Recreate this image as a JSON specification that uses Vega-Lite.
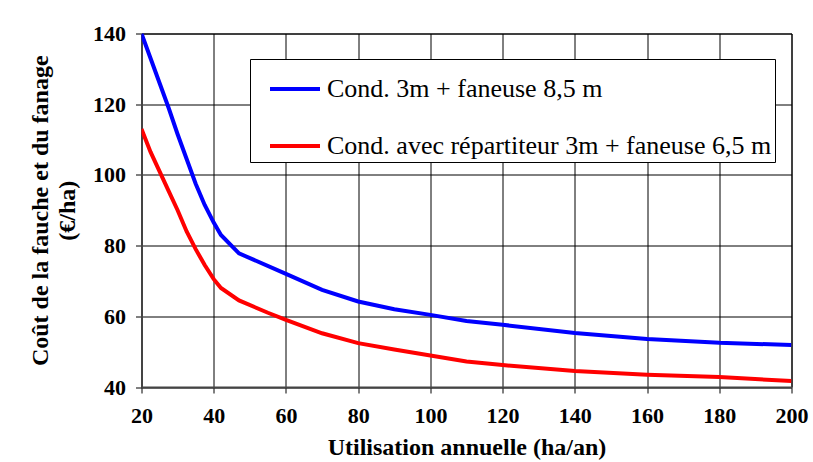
{
  "$schema": "https://vega.github.io/schema/vega-lite/v6.json",
  "width": 650,
  "height": 353.5,
  "autosize": {"type": "none"},
  "padding": {"left": 141.5, "top": 33.5, "right": 21, "bottom": 75},
  "background": "white",
  "config": {
    "view": {"stroke": "black", "strokeWidth": 1},
    "font": "Liberation Serif",
    "legend": {"labelFont": "Liberation Serif"}
  },
  "data": {
    "values": [
      {"x": 20, "cout": 140, "serie": "Cond. 3m + faneuse 8,5 m"},
      {"x": 22.5, "cout": 133, "serie": "Cond. 3m + faneuse 8,5 m"},
      {"x": 25, "cout": 126, "serie": "Cond. 3m + faneuse 8,5 m"},
      {"x": 27.5, "cout": 119, "serie": "Cond. 3m + faneuse 8,5 m"},
      {"x": 30, "cout": 111.5, "serie": "Cond. 3m + faneuse 8,5 m"},
      {"x": 32.5, "cout": 104.5, "serie": "Cond. 3m + faneuse 8,5 m"},
      {"x": 35, "cout": 97.5, "serie": "Cond. 3m + faneuse 8,5 m"},
      {"x": 37.5, "cout": 91.5, "serie": "Cond. 3m + faneuse 8,5 m"},
      {"x": 40, "cout": 86.5, "serie": "Cond. 3m + faneuse 8,5 m"},
      {"x": 42, "cout": 83, "serie": "Cond. 3m + faneuse 8,5 m"},
      {"x": 47, "cout": 77.8, "serie": "Cond. 3m + faneuse 8,5 m"},
      {"x": 60, "cout": 72, "serie": "Cond. 3m + faneuse 8,5 m"},
      {"x": 70, "cout": 67.5, "serie": "Cond. 3m + faneuse 8,5 m"},
      {"x": 80, "cout": 64.2, "serie": "Cond. 3m + faneuse 8,5 m"},
      {"x": 90, "cout": 62, "serie": "Cond. 3m + faneuse 8,5 m"},
      {"x": 100, "cout": 60.4, "serie": "Cond. 3m + faneuse 8,5 m"},
      {"x": 110, "cout": 58.7, "serie": "Cond. 3m + faneuse 8,5 m"},
      {"x": 120, "cout": 57.6, "serie": "Cond. 3m + faneuse 8,5 m"},
      {"x": 140, "cout": 55.3, "serie": "Cond. 3m + faneuse 8,5 m"},
      {"x": 160, "cout": 53.6, "serie": "Cond. 3m + faneuse 8,5 m"},
      {"x": 180, "cout": 52.5, "serie": "Cond. 3m + faneuse 8,5 m"},
      {"x": 200, "cout": 51.9, "serie": "Cond. 3m + faneuse 8,5 m"},
      {"x": 20, "cout": 113, "serie": "Cond. avec répartiteur 3m + faneuse 6,5 m"},
      {"x": 22.5, "cout": 106.5, "serie": "Cond. avec répartiteur 3m + faneuse 6,5 m"},
      {"x": 25, "cout": 101, "serie": "Cond. avec répartiteur 3m + faneuse 6,5 m"},
      {"x": 27.5, "cout": 95.5, "serie": "Cond. avec répartiteur 3m + faneuse 6,5 m"},
      {"x": 30, "cout": 90, "serie": "Cond. avec répartiteur 3m + faneuse 6,5 m"},
      {"x": 32.5, "cout": 84, "serie": "Cond. avec répartiteur 3m + faneuse 6,5 m"},
      {"x": 35, "cout": 79, "serie": "Cond. avec répartiteur 3m + faneuse 6,5 m"},
      {"x": 37.5, "cout": 74.5, "serie": "Cond. avec répartiteur 3m + faneuse 6,5 m"},
      {"x": 40, "cout": 70.5, "serie": "Cond. avec répartiteur 3m + faneuse 6,5 m"},
      {"x": 42, "cout": 68, "serie": "Cond. avec répartiteur 3m + faneuse 6,5 m"},
      {"x": 47, "cout": 64.5, "serie": "Cond. avec répartiteur 3m + faneuse 6,5 m"},
      {"x": 55, "cout": 61, "serie": "Cond. avec répartiteur 3m + faneuse 6,5 m"},
      {"x": 60, "cout": 59, "serie": "Cond. avec répartiteur 3m + faneuse 6,5 m"},
      {"x": 70, "cout": 55.2, "serie": "Cond. avec répartiteur 3m + faneuse 6,5 m"},
      {"x": 80, "cout": 52.4, "serie": "Cond. avec répartiteur 3m + faneuse 6,5 m"},
      {"x": 90, "cout": 50.6, "serie": "Cond. avec répartiteur 3m + faneuse 6,5 m"},
      {"x": 100, "cout": 48.9, "serie": "Cond. avec répartiteur 3m + faneuse 6,5 m"},
      {"x": 110, "cout": 47.2, "serie": "Cond. avec répartiteur 3m + faneuse 6,5 m"},
      {"x": 120, "cout": 46.2, "serie": "Cond. avec répartiteur 3m + faneuse 6,5 m"},
      {"x": 140, "cout": 44.5, "serie": "Cond. avec répartiteur 3m + faneuse 6,5 m"},
      {"x": 160, "cout": 43.5, "serie": "Cond. avec répartiteur 3m + faneuse 6,5 m"},
      {"x": 180, "cout": 42.8, "serie": "Cond. avec répartiteur 3m + faneuse 6,5 m"},
      {"x": 200, "cout": 41.7, "serie": "Cond. avec répartiteur 3m + faneuse 6,5 m"}
    ]
  },
  "mark": {"type": "line", "strokeWidth": 4, "clip": true},
  "encoding": {
    "x": {
      "field": "x",
      "type": "quantitative",
      "scale": {"domain": [20, 200], "nice": false, "zero": false},
      "axis": {
        "title": "Utilisation annuelle (ha/an)",
        "values": [20, 40, 60, 80, 100, 120, 140, 160, 180, 200],
        "grid": true,
        "gridColor": "black",
        "gridOpacity": 1,
        "gridWidth": 1,
        "domainColor": "#444",
        "domainWidth": 2,
        "tickColor": "black",
        "tickSize": 6,
        "labelFont": "Liberation Serif",
        "labelFontWeight": "bold",
        "labelFontSize": 22,
        "labelColor": "black",
        "labelPadding": 12,
        "labelFlush": false,
        "titleFont": "Liberation Serif",
        "titleFontWeight": "bold",
        "titleFontSize": 24,
        "titleColor": "black",
        "titlePadding": 9
      }
    },
    "y": {
      "field": "cout",
      "type": "quantitative",
      "scale": {"domain": [40, 140], "nice": false, "zero": false},
      "axis": {
        "title": ["Coût de la fauche et du fanage", "(€/ha)"],
        "values": [40, 60, 80, 100, 120, 140],
        "grid": true,
        "gridColor": "black",
        "gridOpacity": 1,
        "gridWidth": 1,
        "domainColor": "#444",
        "domainWidth": 2,
        "tickColor": "black",
        "tickSize": 6,
        "labelFont": "Liberation Serif",
        "labelFontWeight": "bold",
        "labelFontSize": 22,
        "labelColor": "black",
        "labelPadding": 10,
        "labelFlush": false,
        "titleFont": "Liberation Serif",
        "titleFontWeight": "bold",
        "titleFontSize": 24,
        "titleLineHeight": 27,
        "titleColor": "black",
        "titlePadding": 13
      }
    },
    "color": {
      "field": "serie",
      "type": "nominal",
      "scale": {
        "domain": ["Cond. 3m + faneuse 8,5 m", "Cond. avec répartiteur 3m + faneuse 6,5 m"],
        "range": ["#0000ff", "#ff0000"]
      },
      "legend": {
        "title": null,
        "orient": "none",
        "legendX": 108.5,
        "legendY": 25.5,
        "strokeColor": "black",
        "fillColor": "white",
        "padding": 3,
        "rowPadding": 17,
        "symbolOffset": 15,
        "symbolType": "stroke",
        "symbolSize": 2500,
        "symbolStrokeWidth": 4,
        "labelFont": "Liberation Serif",
        "labelFontSize": 26,
        "labelColor": "black",
        "labelOffset": 5,
        "labelLimit": 0
      }
    }
  }
}
